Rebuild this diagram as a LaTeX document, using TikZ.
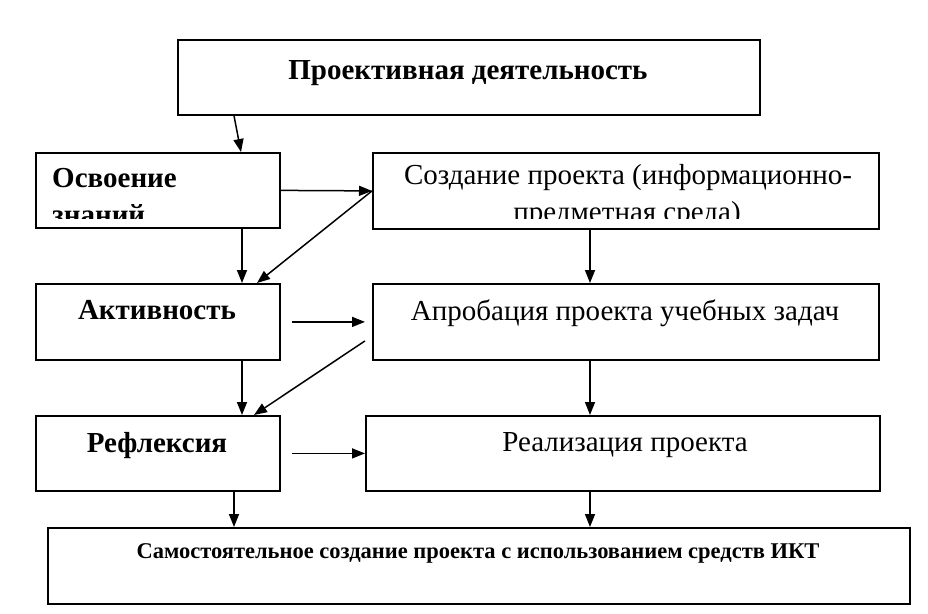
\documentclass[tikz,border=0pt]{standalone}
\usepackage{fontspec}
\setmainfont{Liberation Serif}
\usetikzlibrary{arrows.meta}
\tikzset{
  box/.style={draw,line width=1.8pt,anchor=north west,inner sep=0pt},
  txt/.style={anchor=base,inner sep=0pt,font=\fontsize{29}{34}\selectfont},
  btxt/.style={txt,font=\fontsize{29}{34}\selectfont\bfseries},
  stxt/.style={txt,font=\fontsize{22.5}{27}\selectfont\bfseries},
  func/.style={-{Triangle[length=13pt,width=10pt]},line width=1.5pt},
}

\begin{document}
\begin{tikzpicture}[x=1pt,y=-1pt]
      \useasboundingbox (0,0) rectangle (928,613);
      % boxes
      \node [box,minimum width=582pt,minimum height=75pt] (top) at (177,39) {};
      \node [box,minimum width=244pt,minimum height=75pt] (osv) at (35,152) {};
      \node [box,minimum width=506pt,minimum height=76pt] (soz) at (372,152) {};
      \node [box,minimum width=244pt,minimum height=76pt] (act) at (35,283) {};
      \node [box,minimum width=506pt,minimum height=76pt] (apr) at (372,283) {};
      \node [box,minimum width=244pt,minimum height=75pt] (ref) at (35,415) {};
      \node [box,minimum width=514pt,minimum height=75pt] (rea) at (365,415) {};
      \node [box,minimum width=862pt,minimum height=76pt] (bot) at (47,527) {};
      % texts
      \node [btxt] (top-t) at (468,79) {Проективная деятельность};
      \node [btxt,anchor=base west] (osv-t) at (52,187) {Освоение};
      \node [txt] (soz-t) at (628,184) {Создание проекта (информационно-};
      \begin{scope}
        \clip (osv.north west) rectangle ([yshift=11pt]soz.south east);
        \node [btxt,anchor=base west] (osv-t2) at (52,224) {знаний};
        \node [txt] (soz-t2) at (627,221) {предметная среда)};
      \end{scope}
      \node [btxt] (act-t) at (157,319) {Активность};
      \node [txt] (apr-t) at (625,320) {Апробация проекта учебных задач};
      \node [btxt] (ref-t) at (157,452) {Рефлексия};
      \node [txt] (rea-t) at (625,451) {Реализация проекта};
      \node [stxt] (bot-t) at (478,558) {Самостоятельное создание проекта с использованием средств ИКТ};
      % arrows
      \draw [func] ([xshift=57pt]top.south west) -- ([xshift=206pt]osv.north west);
      \draw [func] (osv.east) -- (soz.west);
      \draw [func] (soz.west) -- ([xshift=222pt]act.north west);
      \draw [func] ([xshift=207pt]osv.south west) -- ([xshift=207pt]act.north west);
      \draw [func] ([xshift=218pt]soz.south west) -- ([xshift=218pt]apr.north west);
      \draw [func,shorten >=7pt] ([xshift=11pt]act.east) -- (apr.west);
      \draw [func] ([shift={(-7pt,-19pt)}]apr.west) -- ([xshift=219pt]ref.north west);
      \draw [func] ([xshift=207pt]act.south west) -- ([xshift=207pt]ref.north west);
      \draw [func] ([xshift=218pt]apr.south west) -- ([xshift=225pt]rea.north west);
      \draw [func] ([xshift=11pt]ref.east) -- (rea.west);
      \draw [func] ([xshift=199pt]ref.south west) -- ([xshift=187pt]bot.north west);
      \draw [func] ([xshift=225pt]rea.south west) -- ([xshift=543pt]bot.north west);
\end{tikzpicture}
\end{document}
